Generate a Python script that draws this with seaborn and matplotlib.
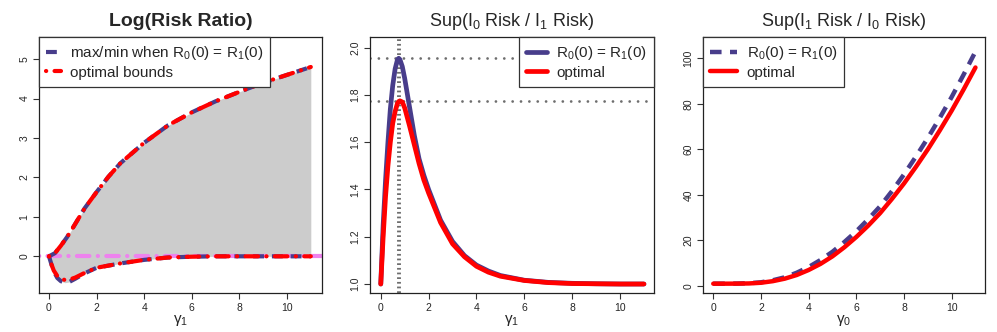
import numpy as np
import pandas as pd
from matplotlib import pyplot as plt
import seaborn as sns

sns.set_style("ticks")
plt.rcParams['font.family'] = ['Liberation Sans', 'DejaVu Sans']
plt.rcParams['mathtext.fontset'] = 'custom'
plt.rcParams['mathtext.rm'] = 'Liberation Sans'
plt.rcParams['mathtext.it'] = 'Liberation Sans:italic'

BLUE = '#483D8B'
RED = '#FF0000'
VIOLET = '#EE82EE'
GRAY = '#6E6E6E'

# ---- panel 1 : log risk ratio bounds
g1_lr = [0, 0.25, 0.5, 0.75, 1, 1.5, 2, 2.5, 3, 4, 5, 6, 7, 8, 9, 10, 11]
upper_lr = [0, 0.08, 0.27, 0.48, 0.72, 1.22, 1.63, 2.02, 2.36, 2.88, 3.32, 3.65, 3.93, 4.17, 4.40, 4.60, 4.80]
g1_low = [0, 0.1, 0.2, 0.35, 0.5, 0.67, 0.85, 1.1, 1.5, 2, 3, 4, 5, 6, 7, 8, 9, 10, 11]
lower_lr = [0, -0.2, -0.38, -0.55, -0.63, -0.67, -0.65, -0.57, -0.43, -0.29, -0.18, -0.09, -0.03, -0.01, 0, 0, 0, 0, 0]
lower_opt = [0, -0.2, -0.36, -0.5, -0.57, -0.6, -0.59, -0.54, -0.42, -0.29, -0.18, -0.09, -0.03, -0.01, 0, 0, 0, 0, 0]

# ---- panel 2 : sup(I0 risk / I1 risk)
g1_sup = [0, 0.1, 0.2, 0.3, 0.4, 0.5, 0.6, 0.7, 0.75, 0.8, 0.9, 1.0, 1.2, 1.4, 1.6, 1.8, 2.0,
          2.5, 3, 3.5, 4, 4.5, 5, 6, 7, 8, 9, 10, 11]
sup01_eq = [1.0, 1.25, 1.44, 1.6, 1.74, 1.84, 1.91, 1.95, 1.955, 1.95, 1.92, 1.87, 1.75, 1.63,
            1.53, 1.46, 1.40, 1.27, 1.18, 1.12, 1.08, 1.055, 1.036, 1.016, 1.007, 1.003, 1.001, 1.0, 1.0]
sup01_opt = [1.0, 1.2, 1.37, 1.5, 1.6, 1.68, 1.73, 1.765, 1.772, 1.775, 1.77, 1.745, 1.67, 1.59,
             1.51, 1.44, 1.385, 1.26, 1.17, 1.115, 1.075, 1.05, 1.033, 1.015, 1.006, 1.002, 1.001, 1.0, 1.0]
peak_g = 0.76
peak_eq = 1.955
peak_opt = 1.775

# ---- panel 3 : sup(I1 risk / I0 risk)
g0_sup = [0, 0.5, 1, 1.5, 2, 2.5, 3, 3.5, 4, 4.5, 5, 5.5, 6, 6.5, 7, 7.5, 8, 8.5, 9, 9.5, 10, 10.5, 11]
sup10_eq = [1, 1.0, 1.05, 1.2, 1.6, 2.5, 3.8, 5.8, 8.3, 11.4, 15, 19.3, 24, 29.3, 35, 41.7, 49,
            56.8, 65, 73.8, 83, 92.8, 103]
sup10_opt = [1, 1.0, 1.02, 1.1, 1.4, 2.1, 3.2, 4.8, 7, 9.7, 13, 17, 21.5, 26.5, 32, 38.3, 45,
             52.3, 60, 68.3, 77, 86.3, 96]

df1 = pd.DataFrame({"g": g1_lr, "up": upper_lr})
df1b = pd.DataFrame({"g": g1_low, "lo": lower_lr, "lo_opt": lower_opt})
df2 = pd.DataFrame({"g": g1_sup, "eq": sup01_eq, "opt": sup01_opt})
df3 = pd.DataFrame({"g": g0_sup, "eq": sup10_eq, "opt": sup10_opt})

fig = plt.figure(figsize=(9.97, 3.32), dpi=100)
ax1 = fig.add_axes([39 / 997, 39 / 332, 283 / 997, 256 / 332])
ax2 = fig.add_axes([370 / 997, 39 / 332, 284 / 997, 256 / 332])
ax3 = fig.add_axes([703 / 997, 39 / 332, 282 / 997, 256 / 332])

dash = (0, (2.6, 1.9))
dotdash = (0, (0.05, 2.0, 3.0, 2.0))

# panel 1
up_on_low = np.interp(g1_low, g1_lr, upper_lr)
ax1.fill_between(g1_low, lower_lr, up_on_low, color='#CCCCCC', lw=0)
ax1.axhline(0, color=VIOLET, lw=3, linestyle=dotdash, dash_capstyle='round')
sns.lineplot(data=df1, x="g", y="up", ax=ax1, color=BLUE, lw=3, linestyle=dash, sort=False,
             estimator=None, label="max/min when R$\\mathregular{_0}$(0) = R$\\mathregular{_1}$(0)")
sns.lineplot(data=df1b, x="g", y="lo", ax=ax1, color=BLUE, lw=3, linestyle=dash, sort=False,
             estimator=None)
sns.lineplot(data=df1, x="g", y="up", ax=ax1, color=RED, lw=3, linestyle=dotdash, sort=False,
             estimator=None, dash_capstyle='round', label="optimal bounds")
sns.lineplot(data=df1b, x="g", y="lo_opt", ax=ax1, color=RED, lw=3, linestyle=dotdash, sort=False,
             estimator=None, dash_capstyle='round')
ax1.set_xlim(-0.42, 11.47)
ax1.set_ylim(-0.93, 5.56)
ax1.set_yticks(range(0, 6))
ax1.set_title("Log(Risk Ratio)", fontsize=14, fontweight='bold', pad=8)
ax1.set_xlabel("$\\mathregular{\\gamma_1}$")

# panel 2
ax2.axvline(peak_g, color=GRAY, lw=2.8, linestyle=(0, (0.45, 0.75)))
ax2.axhline(peak_eq, color=GRAY, lw=2, linestyle=(0, (0.01, 3)), dash_capstyle='round')
ax2.axhline(peak_opt, color=GRAY, lw=2, linestyle=(0, (0.01, 3)), dash_capstyle='round')
sns.lineplot(data=df2, x="g", y="eq", ax=ax2, color=BLUE, lw=3.4, sort=False, estimator=None,
             label="R$\\mathregular{_0}$(0) = R$\\mathregular{_1}$(0)")
sns.lineplot(data=df2, x="g", y="opt", ax=ax2, color=RED, lw=3.4, sort=False, estimator=None,
             label="optimal")
ax2.set_xlim(-0.45, 11.42)
ax2.set_ylim(0.962, 2.045)
ax2.set_yticks([1.0, 1.2, 1.4, 1.6, 1.8, 2.0])
ax2.set_yticklabels(["1.0", "1.2", "1.4", "1.6", "1.8", "2.0"])
ax2.set_title("Sup(I$\\mathregular{_0}$ Risk / I$\\mathregular{_1}$ Risk)", fontsize=13, pad=8)
ax2.set_xlabel("$\\mathregular{\\gamma_1}$")

# panel 3
sns.lineplot(data=df3, x="g", y="eq", ax=ax3, color=BLUE, lw=3.2, linestyle=dash, sort=False,
             estimator=None, label="R$\\mathregular{_0}$(0) = R$\\mathregular{_1}$(0)")
sns.lineplot(data=df3, x="g", y="opt", ax=ax3, color=RED, lw=3.2, sort=False, estimator=None,
             label="optimal")
ax3.set_xlim(-0.43, 11.4)
ax3.set_ylim(-3.1, 109.4)
ax3.set_yticks(range(0, 101, 20))
ax3.set_title("Sup(I$\\mathregular{_1}$ Risk / I$\\mathregular{_0}$ Risk)", fontsize=13, pad=8)
ax3.set_xlabel("$\\mathregular{\\gamma_0}$")

for ax, loc, hl in [(ax1, "upper left", 1.0), (ax2, "upper right", 1.4), (ax3, "upper left", 1.8)]:
    ax.set_xticks(range(0, 11, 2))
    ax.set_ylabel("")
    ax.xaxis.label.set_fontsize(11)
    ax.xaxis.labelpad = 0
    ax.tick_params(labelsize=7.5, length=4, width=0.8, color='#333333', pad=3)
    for lab in ax.get_yticklabels():
        lab.set_rotation(90)
        lab.set_va('center')
    for sp in ax.spines.values():
        sp.set_visible(True)
        sp.set_color('#222222')
        sp.set_linewidth(0.9)
    leg = ax.legend(loc=loc, fontsize=11, frameon=True, fancybox=False, borderaxespad=0,
                    handlelength=hl, handletextpad=0.6, labelspacing=0.25, borderpad=0.45,
                    edgecolor='#333333', framealpha=1)
    leg.get_frame().set_linewidth(0.9)

fig.savefig("out.png", dpi=100)
